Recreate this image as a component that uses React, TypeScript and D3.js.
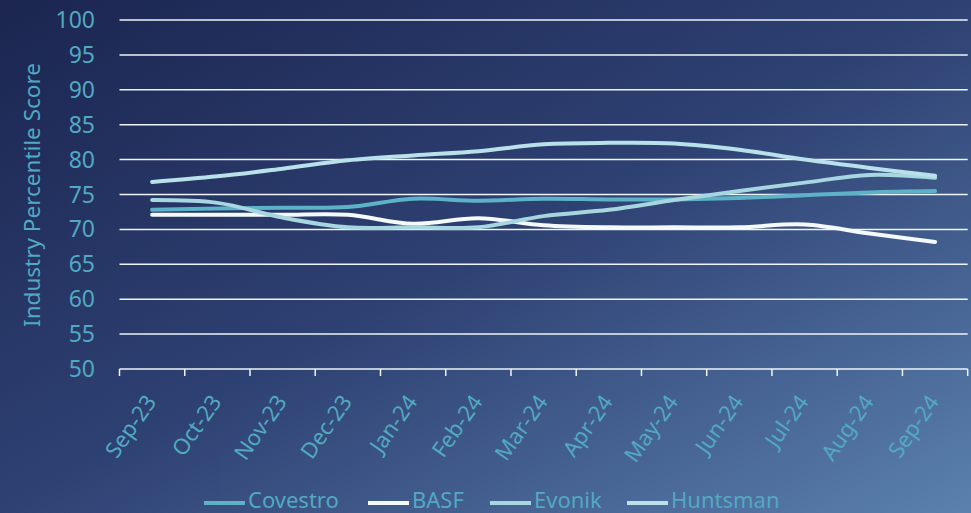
import React from "react";
import * as d3 from "d3";

const months = ["Sep-23","Oct-23","Nov-23","Dec-23","Jan-24","Feb-24","Mar-24","Apr-24","May-24","Jun-24","Jul-24","Aug-24","Sep-24"];
const covestro = [72.8,73.0,73.1,73.2,74.4,74.1,74.4,74.3,74.3,74.5,74.9,75.3,75.5];
const basf = [72.1,72.1,72.1,72.1,70.8,71.6,70.6,70.3,70.3,70.3,70.7,69.4,68.2];
const evonik = [74.2,73.8,71.7,70.3,70.3,70.3,71.9,72.8,74.2,75.5,76.7,77.8,77.4];
const huntsman = [76.8,77.6,78.7,79.9,80.6,81.2,82.2,82.4,82.3,81.4,80.0,78.8,77.7];
const yTicks = [50,55,60,65,70,75,80,85,90,95,100];
const seriesNames = ["Covestro","BASF","Evonik","Huntsman"];
const seriesColors = ["#5db2c7","#f4fafc","#a6d6e0","#b9e1e9"];

const W = 971, H = 513;
const left = 119.5, right = 967.7, top = 20, bottom = 369;
const font = "'Noto Sans', sans-serif";
const labelColor = "#52a9c1";

export default function App() {
  const x = d3.scaleBand<string>().domain(months).range([left, right]).padding(0);
  const cx = (m: string) => (x(m) as number) + x.bandwidth() / 2;
  const y = d3.scaleLinear().domain([50, 100]).range([bottom, top]);
  const line = d3.line<number>()
    .x((_, i) => cx(months[i]))
    .y((d) => y(d))
    .curve(d3.curveCatmullRom.alpha(0.5));
  const data = [covestro, basf, evonik, huntsman];
  const legendX = [204, 368, 490, 627];

  return (
    <svg width={W} height={H} style={{ position: "absolute", left: 0, top: 0 }} fontFamily={font}>
      <defs>
        <linearGradient id="bg" x1="0" y1="0" x2="1" y2="1">
          <stop offset="0" stopColor="#1b2550" />
          <stop offset="0.5" stopColor="#2e4173" />
          <stop offset="1" stopColor="#5b81ae" />
        </linearGradient>
      </defs>
      <rect x={0} y={0} width={W} height={H} fill="url(#bg)" />
      {yTicks.map((t) => (
        <g key={t}>
          {t > 50 && (
            <line x1={left} x2={right} y1={y(t)} y2={y(t)} stroke="#eef4f7" strokeWidth={1.5} />
          )}
          <text x={95} y={y(t)} dy="0.35em" textAnchor="end" fill={labelColor} fontSize={23}>{t}</text>
        </g>
      ))}
      <line x1={left} x2={right} y1={bottom} y2={bottom} stroke="#eef4f7" strokeWidth={1.5} />
      {[...months.map((m) => x(m) as number), right].map((v, i) => (
        <line key={i} x1={v} x2={v} y1={bottom} y2={bottom + 7} stroke="#eef4f7" strokeWidth={1.5} />
      ))}
      {months.map((m) => (
        <text key={m} transform={`translate(${cx(m) + 5},${bottom + 33}) rotate(-55)`} textAnchor="end" fill={labelColor} fontSize={22}>{m}</text>
      ))}
      <text transform={`translate(40,195) rotate(-90)`} textAnchor="middle" fill={labelColor} fontSize={22.5}>Industry Percentile Score</text>
      {data.map((d, i) => (
        <path key={i} d={line(d) || ""} fill="none" stroke={seriesColors[i]} strokeWidth={4} strokeLinecap="round" />
      ))}
      {seriesNames.map((n, i) => (
        <g key={n}>
          <line x1={legendX[i]} x2={legendX[i] + 41} y1={503} y2={503} stroke={seriesColors[i]} strokeWidth={4} />
          <text x={legendX[i] + 44} y={508} fill={labelColor} fontSize={22}>{n}</text>
        </g>
      ))}
    </svg>
  );
}
